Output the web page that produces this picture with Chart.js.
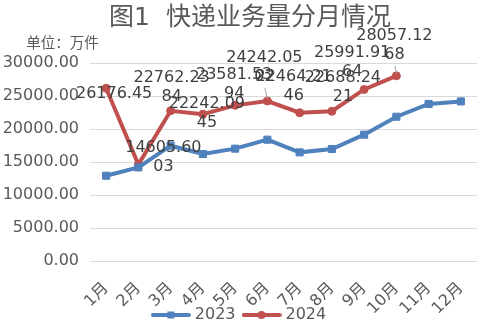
<!DOCTYPE html>
<html>
<head>
<meta charset="utf-8">
<script src="https://cdn.jsdelivr.net/npm/chart.js@4.4.0/dist/chart.umd.min.js"></script>
<style>
  html, body { margin: 0; padding: 0; background: #ffffff; }
  #wrap { width: 477px; height: 333px; position: relative; }
</style>
</head>
<body>
<div id="wrap"><canvas id="c"></canvas></div>
<script>
// Monthly express delivery volume, unit: 10k pieces
const months = ['1月', '2月', '3月', '4月', '5月', '6月', '7月', '8月', '9月', '10月', '11月', '12月'];
const volume2023 = [12920, 14180, 17470, 16210, 17020, 18380, 16460, 16970, 19140, 21860, 23790, 24180];
const volume2024 = [26176.45, 14605.6003, 22762.2384, 22242.0945, 23581.5394, 24242.0502, 22464.2146, 22688.2421, 25991.9164, 28057.1268, null, null];
const yTickValues = [0, 5000, 10000, 15000, 20000, 25000, 30000];
const seriesNames = ['2023', '2024'];
const titleText = '图1  快递业务量分月情况';
const unitText = '单位：万件';

const FONT = "'DejaVu Sans', 'Noto Sans CJK SC', sans-serif";
const BLUE = '#4f81bd';
const RED = '#c0504d';

// Placement of the 2024 value labels relative to their points (first line centre)
const labelOffsets = [[8, 6], [25, -17], [1, -33], [4, -10], [-1, -31], [-3, -43], [-6, -36], [11, -33], [-12, -37], [-2, -40]];
const leaderLines = [5, 9];

function makeLegendIcon(color, shape) {
  const cv = document.createElement('canvas');
  cv.width = 40; cv.height = 10;
  const g = cv.getContext('2d');
  g.strokeStyle = color; g.lineWidth = 4; g.lineCap = 'round';
  g.beginPath(); g.moveTo(2, 5); g.lineTo(38, 5); g.stroke();
  g.fillStyle = color;
  if (shape === 'rect') { g.fillRect(16.5, 1.5, 7, 7); }
  else { g.beginPath(); g.arc(20, 5, 4, 0, Math.PI * 2); g.fill(); }
  return cv;
}
const legendIcons = [makeLegendIcon(BLUE, 'rect'), makeLegendIcon(RED, 'circle')];

const headerPlugin = {
  id: 'header',
  afterDraw(chart) {
    const ctx = chart.ctx;
    ctx.save();
    ctx.fillStyle = '#595959';
    ctx.textBaseline = 'middle';
    ctx.textAlign = 'center';
    ctx.font = "25px " + FONT;
    ctx.fillText(titleText, 250, 18);
    ctx.font = "14.5px " + FONT;
    ctx.fillText(unitText, 62.5, 44);
    ctx.restore();
  }
};

const valueLabelPlugin = {
  id: 'valueLabels',
  afterDatasetsDraw(chart) {
    const ctx = chart.ctx;
    const meta = chart.getDatasetMeta(1);
    ctx.save();
    ctx.font = "16px " + FONT;
    ctx.textAlign = 'center';
    ctx.textBaseline = 'middle';
    volume2024.forEach((v, i) => {
      if (v === null) return;
      const pt = meta.data[i];
      const off = labelOffsets[i] || [0, -30];
      const s = String(v);
      const lines = s.length > 8 ? [s.slice(0, 8), s.slice(8)] : [s];
      const cx = pt.x + off[0];
      const cy = pt.y + off[1];
      if (leaderLines.includes(i)) {
        ctx.strokeStyle = '#a6a6a6';
        ctx.lineWidth = 1;
        ctx.beginPath();
        ctx.moveTo(cx + 0.5, cy + 19 * (lines.length - 1) + 11);
        ctx.lineTo(pt.x, pt.y - 2);
        ctx.stroke();
      }
      ctx.fillStyle = '#404040';
      lines.forEach((t, k) => ctx.fillText(t, cx, cy + k * 19));
    });
    ctx.restore();
  }
};

new Chart(document.getElementById('c'), {
  type: 'line',
  data: {
    labels: months,
    datasets: [
      {
        label: seriesNames[0],
        data: volume2023,
        borderColor: BLUE,
        backgroundColor: BLUE,
        borderWidth: 4,
        pointStyle: 'rect',
        pointRadius: 5,
        pointBorderWidth: 1,
        tension: 0
      },
      {
        label: seriesNames[1],
        data: volume2024,
        borderColor: RED,
        backgroundColor: RED,
        borderWidth: 4,
        pointStyle: 'circle',
        pointRadius: 4,
        pointBorderWidth: 1,
        tension: 0,
        spanGaps: false
      }
    ]
  },
  options: {
    responsive: true,
    maintainAspectRatio: false,
    animation: false,
    devicePixelRatio: 1,
    layout: { autoPadding: false, padding: { top: 63, left: 4, right: 0, bottom: 0 } },
    plugins: {
      title: { display: false },
      tooltip: { enabled: false },
      legend: {
        display: true,
        position: 'bottom',
        labels: {
          usePointStyle: true,
          pointStyleWidth: 32,
          color: '#595959',
          font: { family: FONT, size: 16 },
          padding: 10,
          generateLabels(chart) {
            const items = Chart.defaults.plugins.legend.labels.generateLabels(chart);
            items.forEach((it, i) => { it.pointStyle = legendIcons[i]; it.rotation = 0; });
            return items;
          }
        }
      }
    },
    scales: {
      x: {
        offset: true,
        grid: { display: false },
        border: { display: false },
        afterFit(scale) {
          scale.height = 36;
          scale.paddingLeft = 0;
          scale.paddingRight = 0;
          // let the slanted month labels run past the axis box
          scale._computeLabelArea = () => undefined;
        },
        ticks: {
          autoSkip: false,
          maxRotation: 45,
          minRotation: 45,
          padding: 10,
          color: '#595959',
          font: { family: FONT, size: 16 }
        }
      },
      y: {
        min: 0,
        max: 30000,
        afterBuildTicks(scale) { scale.ticks = yTickValues.map(v => ({ value: v })); },
        afterFit(scale) { scale.width = 86; },
        grid: { color: '#d9d9d9', lineWidth: 1, drawTicks: false },
        border: { display: false },
        ticks: {
          padding: 11,
          color: '#595959',
          font: { family: FONT, size: 16 },
          callback: v => Number(v).toFixed(2)
        }
      }
    }
  },
  plugins: [headerPlugin, valueLabelPlugin]
});
</script>
</body>
</html>
